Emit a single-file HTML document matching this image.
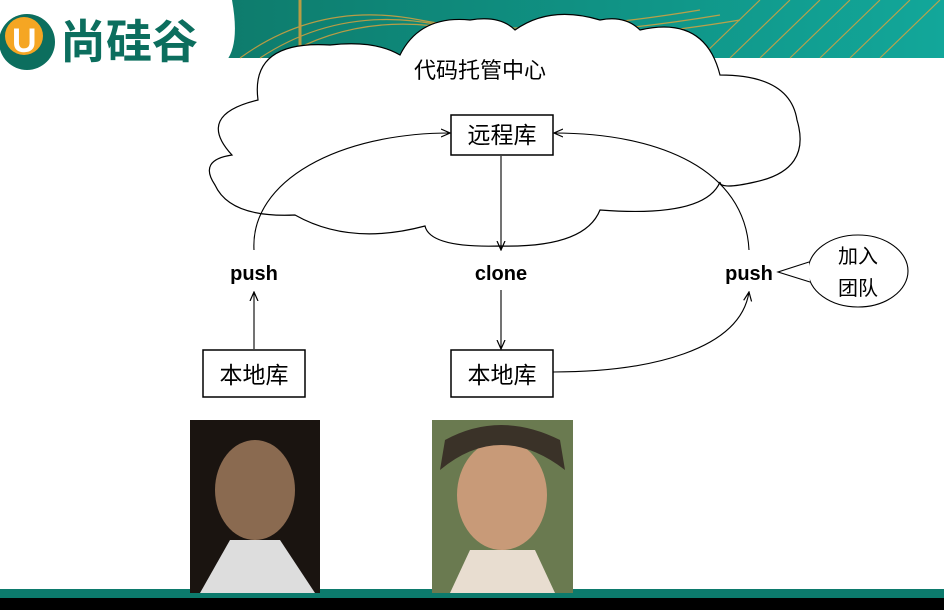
<!DOCTYPE html>
<html><head><meta charset="utf-8"><style>
body{margin:0;width:944px;height:610px;overflow:hidden;background:#fff;font-family:"Liberation Sans","Noto Sans CJK SC",sans-serif}
</style></head><body>
<svg width="944" height="610" xmlns="http://www.w3.org/2000/svg">
<defs>
<linearGradient id="tg" x1="0" x2="1"><stop offset="0" stop-color="#0c6e5e"/><stop offset="1" stop-color="#12a79a"/></linearGradient>
<marker id="a" markerWidth="10" markerHeight="10" refX="9" refY="5" orient="auto" markerUnits="userSpaceOnUse"><path d="M0,1 L9,5 L0,9" fill="none" stroke="#000" stroke-width="1.2"/></marker>
</defs>
<rect x="0" y="0" width="944" height="58" fill="url(#tg)"/>
<g stroke="#e3a33a" stroke-width="1.2" fill="none" opacity="0.8">
<path d="M240,58 Q320,0 420,20 T700,10"/><path d="M260,58 Q340,5 440,25 T720,15"/><path d="M280,58 Q360,10 460,30 T740,20"/>
<path d="M700,58 L760,0"/><path d="M730,58 L790,0"/><path d="M760,58 L820,0"/><path d="M790,58 L850,0"/><path d="M820,58 L880,0"/><path d="M850,58 L910,0"/><path d="M880,58 L940,0"/>
<path d="M300,0 L300,58" stroke-width="3"/>
</g>
<path d="M0,0 H232 Q245,72 200,72 H0 Z" fill="#fff"/>
<circle cx="27" cy="42" r="28" fill="#0c6e5e"/><circle cx="24" cy="36" r="19" fill="#f5a623"/>
<text x="12" y="52" font-size="34" font-weight="bold" fill="#fff">U</text>
<text x="60" y="58" font-size="46" font-weight="bold" fill="#0c6e5e">尚硅谷</text>
<rect x="0" y="589" width="944" height="10" fill="#0c7a6c"/>
<rect x="0" y="598" width="944" height="12" fill="#000"/>
<path d="M258,100 Q250,40 330,45 Q375,40 400,55 Q420,15 470,20 Q500,15 515,30 Q550,5 600,20 Q625,15 640,30 Q705,15 720,75 Q790,75 797,120 Q812,170 755,182 Q720,190 720,182 Q705,218 600,210 Q585,248 500,246 Q430,248 425,226 Q350,246 295,215 Q230,218 215,185 Q198,160 232,155 Q195,115 258,100 Z" fill="#fff" stroke="#000" stroke-width="1.2"/>
<text x="480" y="78" font-size="22" text-anchor="middle">代码托管中心</text>
<rect x="451" y="115" width="102" height="40" fill="#fff" stroke="#000" stroke-width="1.5"/>
<text x="502" y="143" font-size="23" text-anchor="middle">远程库</text>
<rect x="203" y="350" width="102" height="47" fill="#fff" stroke="#000" stroke-width="1.5"/>
<text x="254" y="383" font-size="23" text-anchor="middle">本地库</text>
<rect x="451" y="350" width="102" height="47" fill="#fff" stroke="#000" stroke-width="1.5"/>
<text x="502" y="383" font-size="23" text-anchor="middle">本地库</text>
<text x="254" y="280" font-size="20" font-weight="bold" text-anchor="middle">push</text>
<text x="501" y="280" font-size="20" font-weight="bold" text-anchor="middle">clone</text>
<text x="749" y="280" font-size="20" font-weight="bold" text-anchor="middle">push</text>
<g fill="none" stroke="#000" stroke-width="1.1">
<path d="M254,250 C250,180 340,133 450,133" marker-end="url(#a)"/>
<path d="M749,250 C745,170 660,133 554,133" marker-end="url(#a)"/>
<path d="M501,156 V250" marker-end="url(#a)"/>
<path d="M501,290 V349" marker-end="url(#a)"/>
<path d="M254,349 V292" marker-end="url(#a)"/>
<path d="M553,372 C650,372 740,350 749,292" marker-end="url(#a)"/>
</g>
<ellipse cx="858" cy="271" rx="50" ry="36" fill="#fff" stroke="#000" stroke-width="1.1"/>
<path d="M809,262 L778,272 L810,282" fill="#fff" stroke="#000" stroke-width="1.1"/>
<text x="858" y="263" font-size="20" text-anchor="middle">加入</text>
<text x="858" y="295" font-size="20" text-anchor="middle">团队</text>
<rect x="190" y="420" width="130" height="173" fill="#1a1410"/>
<ellipse cx="255" cy="490" rx="40" ry="50" fill="#8a6a50"/>
<path d="M200,593 L230,540 L280,540 L315,593 Z" fill="#ddd"/>
<rect x="432" y="420" width="141" height="173" fill="#6a7a50"/>
<ellipse cx="502" cy="495" rx="45" ry="55" fill="#c89a78"/>
<path d="M440,470 Q500,420 565,470 L560,440 Q500,410 445,440 Z" fill="#3a3228"/>
<path d="M450,593 L470,550 L535,550 L555,593 Z" fill="#e8ddd0"/>
</svg>
</body></html>
